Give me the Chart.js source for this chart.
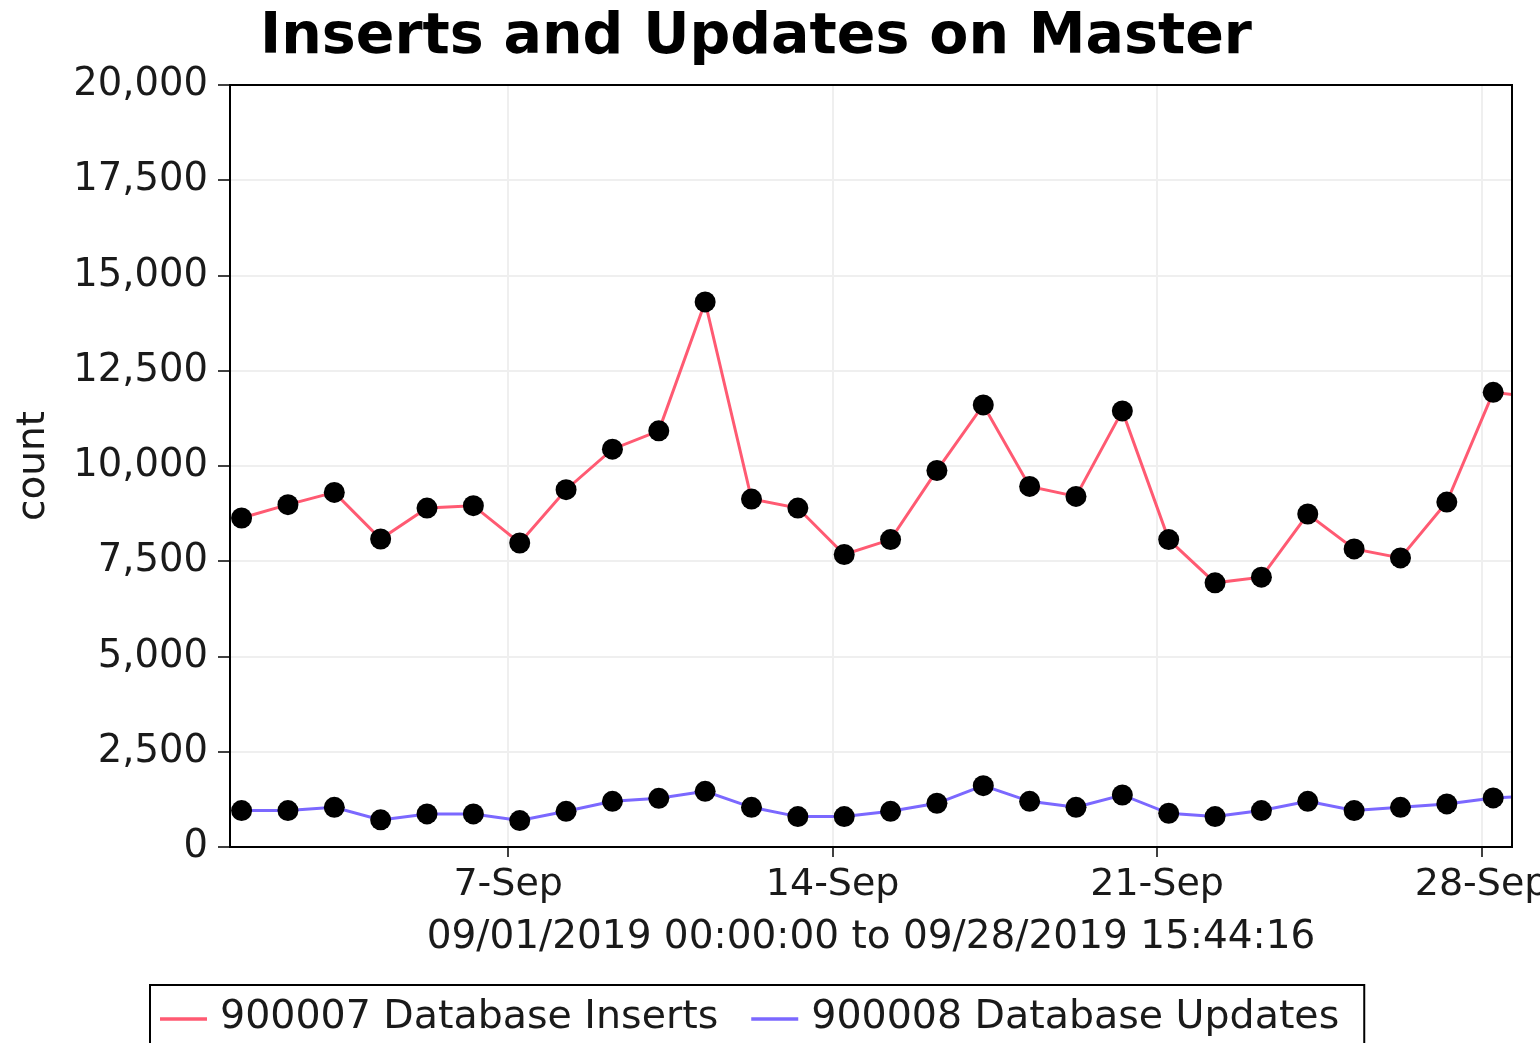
<!DOCTYPE html>
<html>
<head>
<meta charset="utf-8">
<script src="https://cdn.jsdelivr.net/npm/chart.js@4/dist/chart.umd.min.js"></script>
<style>
  html, body { margin: 0; padding: 0; background: #fff; overflow: hidden; }
  canvas { display: block; }
</style>
</head>
<body>
<canvas id="c" width="1540" height="1043"></canvas>
<script>
// ---- data ----
const chartTitle = 'Inserts and Updates on Master';
const yAxisTitle = 'count';
const xAxisTitle = '09/01/2019 00:00:00 to 09/28/2019 15:44:16';
const xMinDay = 0;            // 09/01/2019 00:00:00
const xMaxDay = 27.6557;      // 09/28/2019 15:44:16
const tickDays = [6, 13, 20, 27];
const tickLabels = ['7-Sep', '14-Sep', '21-Sep', '28-Sep'];
const yTicks = [0, 2500, 5000, 7500, 10000, 12500, 15000, 17500, 20000];
const sampleDays = [0.25, 1.25, 2.25, 3.25, 4.25, 5.25, 6.25, 7.25, 8.25, 9.25,
                    10.25, 11.25, 12.25, 13.25, 14.25, 15.25, 16.25, 17.25, 18.25, 19.25,
                    20.25, 21.25, 22.25, 23.25, 24.25, 25.25, 26.25, 27.25, 28.25];
const insertsLabel = '900007 Database Inserts';
const insertsValues = [8634, 8985, 9307, 8084, 8896, 8959, 7980, 9378, 10441, 10922,
                       14307, 9132, 8896, 7676, 8069, 9883, 11603, 9464, 9202, 11446,
                       8069, 6933, 7082, 8739, 7823, 7587, 9053, 11933, 11800];
const updatesLabel = '900008 Database Updates';
const updatesValues = [956, 956, 1042, 712, 869, 869, 694, 937, 1199, 1278,
                       1461, 1042, 798, 798, 937, 1147, 1610, 1199, 1042, 1366,
                       885, 798, 956, 1199, 956, 1042, 1131, 1288, 1350];

const insertsColor = '#ff5a72';
const updatesColor = '#7b68ff';
const FONT = "'DejaVu Sans', sans-serif";

function toPoints(xs, ys) { return xs.map((x, i) => ({ x: x, y: ys[i] })); }

const frame = {
  id: 'frame',
  afterDatasetsDraw(chart) {
    const a = chart.chartArea, ctx = chart.ctx;
    ctx.save();
    ctx.strokeStyle = '#000';
    ctx.lineWidth = 2;
    ctx.strokeRect(a.left, a.top, a.right - a.left, a.bottom - a.top);
    ctx.restore();
  },
  afterDraw(chart) {
    // boxed legend below the axis title
    const ctx = chart.ctx;
    const a = chart.chartArea;
    const top = a.bottom + 138;
    const cy = top + 33;
    ctx.save();
    ctx.font = '39.5px ' + FONT;
    ctx.textBaseline = 'middle';
    ctx.textAlign = 'left';
    const items = chart.data.datasets.map(d => ({ label: d.label, color: d.borderColor }));
    const sample = 47, gap = 13, between = 33, padL = 10, padR = 25;
    let total = padL + padR;
    items.forEach((it, i) => {
      it.w = ctx.measureText(it.label).width;
      total += sample + gap + it.w + (i < items.length - 1 ? between : 0);
    });
    const left = 150;
    ctx.strokeStyle = '#000';
    ctx.lineWidth = 2;
    ctx.strokeRect(left, top, total, 120);
    let x = left + padL;
    items.forEach(it => {
      ctx.strokeStyle = it.color;
      ctx.lineWidth = 3.5;
      ctx.beginPath();
      ctx.moveTo(x, cy + 1);
      ctx.lineTo(x + sample, cy + 1);
      ctx.stroke();
      x += sample + gap;
      ctx.fillStyle = '#1a1a1a';
      ctx.fillText(it.label, x, cy);
      x += it.w + between;
    });
    ctx.restore();
  }
};

new Chart(document.getElementById('c'), {
  type: 'line',
  data: {
    datasets: [
      {
        label: insertsLabel,
        data: toPoints(sampleDays, insertsValues),
        borderColor: insertsColor,
        backgroundColor: insertsColor,
        borderWidth: 3,
        pointRadius: 10.5,
        pointBackgroundColor: '#000',
        pointBorderColor: '#000',
        pointBorderWidth: 0,
        tension: 0
      },
      {
        label: updatesLabel,
        data: toPoints(sampleDays, updatesValues),
        borderColor: updatesColor,
        backgroundColor: updatesColor,
        borderWidth: 3,
        pointRadius: 10.5,
        pointBackgroundColor: '#000',
        pointBorderColor: '#000',
        pointBorderWidth: 0,
        tension: 0
      }
    ]
  },
  options: {
    responsive: false,
    animation: false,
    layout: { padding: { left: 0, right: 28, top: 0, bottom: 76 } },
    font: { family: FONT },
    plugins: {
      legend: { display: false },
      tooltip: { enabled: false },
      title: {
        display: true,
        text: chartTitle,
        color: '#000',
        font: { family: FONT, size: 57, weight: 'bold', lineHeight: 1.2 },
        padding: { top: 4, bottom: 12.6 }
      }
    },
    scales: {
      x: {
        type: 'linear',
        min: xMinDay,
        max: xMaxDay,
        afterBuildTicks(scale) { scale.ticks = tickDays.map(v => ({ value: v })); },
        afterFit(scale) { scale.height = 120; scale.paddingLeft = 0; scale.paddingRight = 0; },
        ticks: {
          autoSkip: false,
          maxRotation: 0,
          padding: 5,
          color: '#1a1a1a',
          font: { family: FONT, size: 38 },
          callback: (v) => tickLabels[tickDays.indexOf(v)]
        },
        grid: { color: '#efefef', lineWidth: 2, tickColor: '#000', tickLength: 10, tickWidth: 1.5 },
        border: { color: '#000', width: 2 },
        title: {
          display: true,
          text: xAxisTitle,
          color: '#1a1a1a',
          font: { family: FONT, size: 39, lineHeight: 1.2 },
          padding: { top: 0, bottom: 6 }
        }
      },
      y: {
        type: 'linear',
        min: 0,
        max: 20000,
        afterBuildTicks(scale) { scale.ticks = yTicks.map(v => ({ value: v })); },
        afterFit(scale) { scale.width = 230; scale.paddingTop = 0; scale.paddingBottom = 0; },
        ticks: {
          padding: 10,
          color: '#1a1a1a',
          font: { family: FONT, size: 38.5 },
          callback: (v) => v.toLocaleString('en-US')
        },
        grid: { color: '#efefef', lineWidth: 2, tickColor: '#000', tickLength: 12, tickWidth: 1.5 },
        border: { color: '#000', width: 2 },
        title: {
          display: true,
          text: yAxisTitle,
          color: '#1a1a1a',
          font: { family: FONT, size: 39, lineHeight: 1.2 },
          padding: { top: 10, bottom: 0 }
        }
      }
    }
  },
  plugins: [frame]
});
</script>
</body>
</html>
